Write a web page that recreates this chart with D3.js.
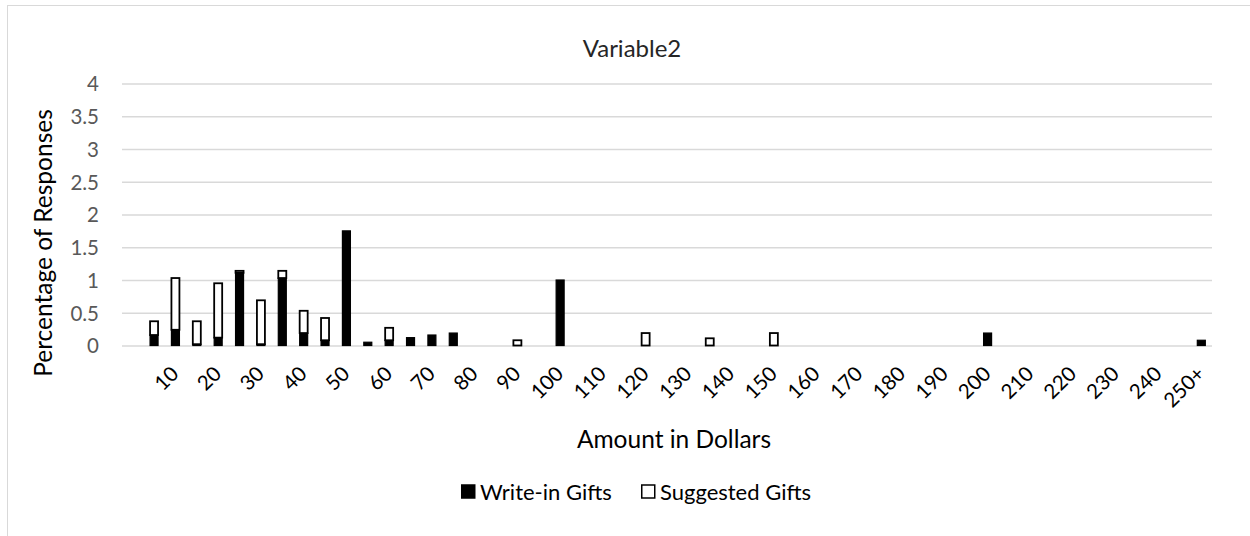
<!DOCTYPE html>
<html>
<head>
<meta charset="utf-8">
<script src="https://cdn.jsdelivr.net/npm/d3@7"></script>
<style>
  html, body { margin: 0; padding: 0; background: #fff; }
  svg { display: block; }
  svg text { font-family: Lato, "Open Sans", sans-serif; }
</style>
</head>
<body>
<svg id="chart" width="1250" height="536"></svg>
<script>
// Gift amount buckets (first bucket carries no label)
const categories = ["", "5", "10", "15", "20", "25", "30", "35", "40", "45", "50",
  "55", "60", "65", "70", "75", "80", "85", "90", "95", "100",
  "105", "110", "115", "120", "125", "130", "135", "140", "145", "150",
  "155", "160", "165", "170", "175", "180", "185", "190", "195", "200",
  "205", "210", "215", "220", "225", "230", "235", "240", "245", "250+"];

// Percentage of responses, write-in amounts
const writeIn = [0, 0.16, 0.24, 0.02, 0.12, 1.11, 0.02, 1.03, 0.19, 0.08, 1.75,
  0.05, 0.08, 0.12, 0.16, 0.19, 0, 0, 0, 0, 1.0,
  0, 0, 0, 0, 0, 0, 0, 0, 0, 0,
  0, 0, 0, 0, 0, 0, 0, 0, 0, 0.19,
  0, 0, 0, 0, 0, 0, 0, 0, 0, 0.08];

// Percentage of responses, suggested amounts
const suggested = [0, 0.21, 0.79, 0.35, 0.83, 0.03, 0.67, 0.11, 0.34, 0.34, 0,
  0, 0.19, 0, 0, 0, 0, 0, 0.08, 0, 0,
  0, 0, 0, 0.19, 0, 0, 0.11, 0, 0, 0.19,
  0, 0, 0, 0, 0, 0, 0, 0, 0, 0,
  0, 0, 0, 0, 0, 0, 0, 0, 0, 0];

const xTickLabels = ["10", "20", "30", "40", "50", "60", "70", "80", "90", "100",
  "110", "120", "130", "140", "150", "160", "170", "180", "190", "200",
  "210", "220", "230", "240", "250+"];
const yTicks = [0, 0.5, 1, 1.5, 2, 2.5, 3, 3.5, 4];

const seriesNames = ["Write-in Gifts", "Suggested Gifts"];

const FONT = 'Lato, "Open Sans", sans-serif';
const svg = d3.select("#chart");
const plot = { left: 122, right: 1212, top: 83.5, bottom: 345.5 };

// outer chart frame
svg.append("rect")
  .attr("x", 7.5).attr("y", 5.5)
  .attr("width", 1250).attr("height", 540)
  .attr("fill", "#fff").attr("stroke", "#d9d9d9").attr("stroke-width", 1);

const pad = 0.626;
const x = d3.scaleBand()
  .domain(categories)
  .range([plot.left, plot.right])
  .paddingInner(pad)
  .paddingOuter(pad / 2);

const y = d3.scaleLinear().domain([0, 4]).range([plot.bottom, plot.top]);

// horizontal gridlines and y labels
const yAxis = svg.append("g")
  .attr("transform", `translate(${plot.left},0)`)
  .call(d3.axisLeft(y).tickValues(yTicks).tickFormat(d3.format("")).tickSize(-(plot.right - plot.left)).tickPadding(23));
yAxis.attr("font-family", null).attr("font-size", null);
yAxis.select(".domain").remove();
yAxis.selectAll(".tick line").attr("stroke", "#d9d9d9").attr("stroke-width", 1.3);
yAxis.selectAll(".tick text")
  .attr("fill", "#595959")
  .style("font-family", FONT)
  .style("font-size", "20.5px")
  .attr("dy", "0.36em");

// stacked bars
const stack = categories.map((c, i) => ({ cat: c, w: writeIn[i], s: suggested[i] }));
const bars = svg.append("g");
stack.forEach(d => {
  if (d.w > 0) {
    bars.append("rect")
      .attr("x", x(d.cat))
      .attr("y", y(d.w))
      .attr("width", x.bandwidth())
      .attr("height", y(0) - y(d.w))
      .attr("fill", "#000")
      .attr("stroke", "#000").attr("stroke-width", 1.2);
  }
  if (d.s > 0) {
    bars.append("rect")
      .attr("x", x(d.cat))
      .attr("y", y(d.w + d.s))
      .attr("width", x.bandwidth())
      .attr("height", y(d.w) - y(d.w + d.s))
      .attr("fill", "#fff")
      .attr("stroke", "#000").attr("stroke-width", 1.8);
  }
});

// category axis labels, rotated
const xAxis = svg.append("g");
xAxis.selectAll("text")
  .data(xTickLabels)
  .join("text")
  .attr("transform", d => `translate(${x(d) + x.bandwidth() / 2 + 4.5},375) rotate(-45)`)
  .attr("text-anchor", "end")
  .attr("fill", "#000")
  .style("font-family", FONT)
  .style("font-size", "20.5px")
  .text(d => d);

// title
svg.append("text")
  .attr("x", 632).attr("y", 56.5)
  .attr("text-anchor", "middle")
  .attr("fill", "#262626")
  .style("font-size", "24px")
  .text("Variable2");

// axis titles
svg.append("text")
  .attr("x", 674).attr("y", 447.5)
  .attr("text-anchor", "middle")
  .attr("fill", "#000")
  .style("font-size", "24.5px")
  .text("Amount in Dollars");

svg.append("text")
  .attr("transform", "translate(52,243) rotate(-90)")
  .attr("text-anchor", "middle")
  .attr("fill", "#000")
  .style("font-size", "24.5px")
  .text("Percentage of Responses");

// legend
const legend = svg.append("g");
const legendItems = [
  { name: seriesNames[0], x: 461, fill: "#000" },
  { name: seriesNames[1], x: 641, fill: "#fff" }
];
legendItems.forEach(it => {
  legend.append("rect")
    .attr("x", it.x + 0.75).attr("y", 485)
    .attr("width", 13).attr("height", 13)
    .attr("fill", it.fill).attr("stroke", "#000").attr("stroke-width", 1.5);
  legend.append("text")
    .attr("x", it.x + 19).attr("y", 499.5)
    .attr("fill", "#000")
    .style("font-size", "22px")
    .text(it.name);
});
</script>
</body>
</html>
